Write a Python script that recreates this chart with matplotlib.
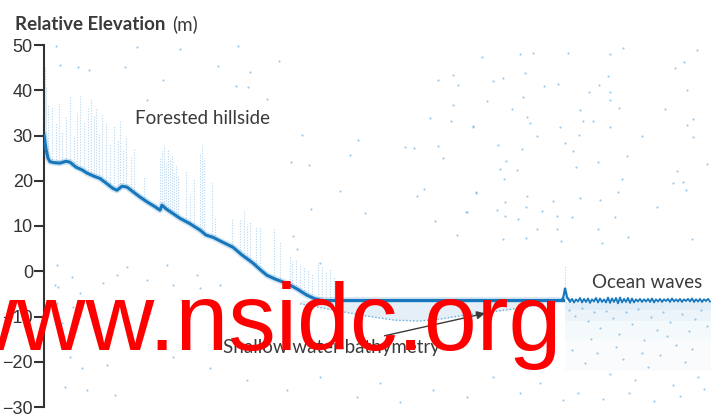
import numpy as np
import matplotlib
matplotlib.use('Agg')
import matplotlib.pyplot as plt

# 지면(ground) 프로파일: 트랙 거리, 상대 고도(m)
ground_d = [0, 2, 4, 6, 10, 16, 22, 26, 32, 38, 43, 50, 56, 62, 69, 73, 78, 83, 90, 96,
            104, 110, 116, 118, 122, 128, 136, 146, 156, 162, 169, 178, 189, 198, 209, 216,
            223, 232, 243, 253, 263, 270, 276]
ground_e = [30, 27, 25, 24.2, 24.0, 23.9, 24.3, 24.1, 23.0, 22.4, 21.7, 21.0, 20.5, 19.5,
            18.3, 17.9, 18.8, 18.6, 17.4, 16.4, 15.2, 14.4, 13.5, 14.6, 13.8, 12.9, 11.7,
            10.5, 9.1, 8.0, 7.5, 6.5, 5.3, 3.6, 1.8, 0.4, -0.9, -1.8, -2.7, -3.9, -5.3, -6.0, -6.4]

# 수면
water_d = [276, 519]
water_e = [-6.4, -6.4]

# 해안 스파이크
spike_d = [517, 519, 520, 521, 522, 523, 525]
spike_e = [-6.4, -6.0, -5.0, -3.8, -4.6, -5.8, -6.3]

# 파도
wave_e = [-6.0, -6.8, -6.1, -6.9, -6.2, -6.7, -5.9, -6.9, -6.1, -6.8, -6.0, -7.0, -6.2, -6.7,
          -5.9, -6.9, -6.0, -6.8, -6.2, -6.9, -5.8, -7.0, -6.0, -6.8, -5.9, -7.1, -5.8, -6.9,
          -6.1, -6.8, -5.9, -7.0, -6.0, -6.9, -6.2, -6.7, -6.1, -6.8, -6.2, -6.7, -6.1, -6.8,
          -6.0, -6.9, -6.2, -6.7, -6.1, -6.8, -6.2, -6.6, -6.1, -6.8, -6.0, -6.7, -6.2, -6.7,
          -6.1, -6.8, -6.2, -6.6, -6.1, -6.7, -6.0, -6.8, -6.2, -6.7, -6.1, -6.8, -6.2, -6.6,
          -6.1, -6.7]
wave_start, wave_end = 524, 666

# 얕은 수심 해저면
bathy_d = [256, 290, 320, 350, 375, 395, 415, 440, 460, 480, 500]
bathy_e = [-7.2, -8.6, -9.8, -10.8, -11.0, -10.6, -9.9, -9.2, -8.6, -8.0, -7.3]

# 나무 캐노피: (거리, 지면, 꼭대기)
canopy = [(1, 26, 45), (2, 25, 41), (4, 24.5, 37), (8, 24.2, 36.5), (12, 24.1, 33),
          (15, 24, 37.5), (18, 24, 31), (22, 24.3, 34), (26, 24.1, 38.5), (30, 23.4, 30),
          (33, 23, 35), (36, 22.6, 39), (40, 22, 33), (44, 21.7, 36.5), (47, 21.3, 38),
          (50, 21, 34.5), (52, 20.8, 36), (55, 20.6, 30.5), (58, 20.2, 35), (62, 19.5, 33),
          (66, 18.8, 28), (70, 18.2, 32), (74, 18, 29), (76, 18.2, 33.5), (79, 18.8, 27),
          (82, 18.7, 30), (87, 18, 25.5), (90, 17.4, 27), (100, 15.8, 21), (116, 13.5, 25),
          (118, 14.6, 26.5), (120, 14.2, 28), (122, 13.8, 24), (124, 13.6, 27), (126, 13.2, 25),
          (128, 12.9, 26), (130, 12.6, 22), (132, 12.4, 23.5), (134, 12.0, 21), (142, 11, 22),
          (146, 10.5, 17), (150, 10, 20.5), (156, 9.1, 26), (158, 8.8, 28), (160, 8.5, 25),
          (168, 7.6, 19.5), (171, 7.3, 12), (188, 5.4, 11.8), (196, 4, 11.5), (200, 3.3, 13.5),
          (203, 2.8, 10.5), (206, 2.3, 11), (212, 1.2, 10), (216, 0.4, 9.5), (230, -1.6, 9.7),
          (236, -2.1, 6.6), (246, -3.1, 3.2), (248, -3.3, 2.5), (252, -3.8, 2.8), (256, -4.3, 1.5),
          (260, -4.9, 1.0), (264, -5.4, 0.2), (268, -5.8, -0.5), (274, -6.3, 2.0), (278, -6.4, 1.2),
          (282, -6.4, -0.2), (286, -6.4, 0.8), (290, -6.4, -1.0), (296, -6.4, -2.5), (521, -4, 1.3)]

# 배경 잡음 광자
noise_d = [438, 476, 489, 524, 566, 579, 653, 409, 394, 459, 481, 564, 631, 640, 414, 449, 500,
           514, 545, 555, 566, 643, 479, 443, 566, 409, 468, 536, 575, 621, 386, 407, 483, 486,
           539, 549, 649, 429, 516, 566, 643, 493, 535, 598, 649, 394, 454, 478, 521, 529, 399,
           462, 554, 583, 663, 456, 473, 532, 460, 578, 633, 639, 629, 380, 432, 574, 642, 483,
           536, 556, 461, 509, 423, 453, 482, 613, 391, 461, 474, 498, 513, 528, 571, 413, 493,
           513, 554, 459, 482, 517, 558, 584, 648,
           258, 314, 306, 247, 265, 361, 370, 429, 296, 373, 432, 267, 321, 422, 249, 253, 276,
           12, 93, 136, 194, 16, 34, 45, 81, 174, 206, 235, 119, 192, 204, 223, 103,
           13, 28, 11, 36, 59, 73, 83, 103, 123, 129, 153, 156, 176, 13, 29, 106, 129, 14, 29,
           18, 26, 38, 63, 21, 43, 71,
           166, 203, 243, 276, 313, 336, 356, 389, 423, 449, 476, 496, 519,
           525, 531, 538, 544, 550, 556, 562, 569, 575, 582, 588, 594, 600, 607, 613, 619, 626,
           632, 638, 645, 651, 657, 663, 528, 541, 553, 566, 579, 591, 604, 616, 629, 641, 654,
           534, 559, 585, 610, 636, 660, 547, 572, 598, 623, 648]
noise_e = [47.3, 48.0, 48.2, 48.2, 48.0, 49.3, 48.8, 43.3, 42.2, 42.7, 43.8, 43.1, 44.9, 46.2,
           41.1, 42.0, 40.9, 41.3, 39.6, 41.1, 39.6, 40.0, 38.5, 37.6, 37.8, 36.7, 35.8, 35.6,
           36.0, 35.8, 33.8, 33.1, 34.0, 32.7, 33.1, 33.1, 33.6, 31.8, 31.8, 31.8, 32.3, 29.8,
           30.1, 29.8, 29.6, 27.6, 27.8, 27.0, 28.3, 26.5, 25.0, 24.3, 24.1, 25.4, 23.6, 22.5,
           22.3, 23.0, 20.3, 20.3, 22.1, 19.7, 19.4, 18.1, 17.2, 17.5, 17.9, 16.6, 16.1, 15.7,
           15.2, 15.5, 13.0, 13.5, 14.1, 14.1, 11.0, 12.2, 11.5, 13.3, 12.2, 11.9, 11.9, 8.0,
           9.3, 9.3, 9.3, 7.1, 7.3, 6.6, 6.2, 7.5, 7.1,
           30.1, 29.0, 25.6, 24.1, 23.4, 27.4, 27.2, 32.0, 17.7, 16.6, 17.5, 13.7, 12.8, 13.0,
           7.7, 4.9, 1.8,
           49.7, 49.5, 49.1, 49.7, 45.5, 45.1, 44.4, 45.1, 45.3, 44.0, 46.4, 42.2, 40.9, 40.7,
           38.0, 37.8,
           1.3, -1.3, -3.1, -4.9, -2.7, -0.9, 0.9, -2.0, 1.3, -3.1, -0.9, -3.8, -3.1, -7.1,
           -13.0, -9.3, -19.0, -3.5, -8.0, -11.5, -19.0, -21.4, -20.8, -25.6, -26.3, -27.4,
           -21.4, -24.1, -26.3, -23.4, -27.8, -24.7, -28.9, -26.3, -27.8, -23.4, -26.9, -24.7,
           -28.5,
           -8.5, -9.8, -8.2, -11.0, -9.1, -12.5, -8.7, -10.4, -13.8, -9.0, -11.7, -8.4, -15.2,
           -10.0, -12.9, -8.9, -11.2, -16.4, -9.4, -13.3, -10.6, -8.6, -12.1, -17.5, -20.3,
           -18.0, -22.6, -19.4, -24.0, -21.2, -18.6, -25.1, -20.0, -23.3, -26.8, -28.2, -27.0,
           -28.6, -27.5, -26.0, -14.9, -16.8, -18.1, -14.3, -17.2]

# 바다 밑 반사 영역 (오른쪽), 위에서 아래로 점점 옅어짐
ocean_d = [521, 667]
ocean_band_top = [-6.8, -8.5, -11.0, -15.0]
ocean_band_bottom = [-8.5, -11.0, -15.0, -22.0]
ocean_band_alpha = [0.16, 0.10, 0.06, 0.03]

blue = '#1677bd'
light = '#4a9ad4'
dot = '#86bde6'
ink = '#3a3a3a'

fig = plt.figure(figsize=(7.11, 4.16), dpi=100)
ax = fig.add_axes([44 / 711, 1 - 407 / 416, 667 / 711, 362 / 416])

ax.scatter(noise_d, noise_e, s=2.5, color=dot, alpha=0.8, linewidths=0, zorder=1)

# 수중 반사
ax.fill_between(bathy_d, -6.4, bathy_e, color=light, alpha=0.15, linewidth=0, zorder=1)
for top, bot, a in zip(ocean_band_top, ocean_band_bottom, ocean_band_alpha):
    ax.fill_between(ocean_d, top, bot, color=light, alpha=a, linewidth=0, zorder=1)
ax.plot(bathy_d, bathy_e, color=light, lw=1.0, ls=(0, (1, 1.5)), alpha=0.8, zorder=2)

# 캐노피
for d, lo, hi in canopy:
    ax.vlines(d, lo, hi, color=light, lw=0.8, alpha=0.4, ls=(0, (1, 1.4)), zorder=2)

# 지면, 수면, 파도
ax.plot(ground_d, ground_e, color=blue, lw=4.5, alpha=0.2, zorder=3)
ax.plot(ground_d, ground_e, color=blue, lw=2.2, zorder=4)
ax.plot(water_d, water_e, color=blue, lw=4, alpha=0.2, zorder=3)
ax.plot(water_d, water_e, color=blue, lw=2.2, zorder=4)
ax.plot(spike_d, spike_e, color=blue, lw=1.6, zorder=4)
wave_d = np.linspace(wave_start, wave_end, len(wave_e))
ax.plot(wave_d, wave_e, color=blue, lw=1.3, zorder=4)

ax.set_xlim(0, 667)
ax.set_ylim(-30, 50)
ax.set_yticks([-30, -20, -10, 0, 10, 20, 30, 40, 50])
for s in ['top', 'right', 'bottom']:
    ax.spines[s].set_visible(False)
ax.spines['left'].set_color('#333333')
ax.spines['left'].set_linewidth(1.5)
ax.xaxis.set_visible(False)
ax.tick_params(axis='y', length=7, width=1.5, color='#333333', labelcolor='#333333',
               labelsize=13, pad=1)
for lab in ax.get_yticklabels():
    lab.set_family('Liberation Sans')
ax.patch.set_alpha(0)

# 주석
ax.text(91, 32.5, 'Forested hillside', fontsize=13.5, family='Lato', color=ink, va='baseline')
ax.text(548, -3.8, 'Ocean waves', fontsize=13.5, family='Lato', color=ink, va='baseline')
ax.annotate('Shallow water bathymetry', xy=(441, -9.3), xytext=(179, -18.1),
            fontsize=13.5, family='Lato', color=ink, va='baseline',
            arrowprops=dict(arrowstyle='-|>', color=ink, lw=1, mutation_scale=12,
                            shrinkA=2, shrinkB=0))

fig.text(15 / 711, 1 - 30 / 416, 'Relative Elevation', fontsize=13.5, family='Lato',
         weight='bold', color=ink, va='baseline')
fig.text(172 / 711, 1 - 30 / 416, '(m)', fontsize=13.5, family='Lato', color=ink,
         va='baseline')

# 워터마크
fig.text(-52 / 711, 1 - 350 / 416, 'www.nsidc.org', fontsize=68.5, family='Liberation Sans',
         color='#ff0000', va='baseline', zorder=10)

fig.savefig('out.png', dpi=100)
